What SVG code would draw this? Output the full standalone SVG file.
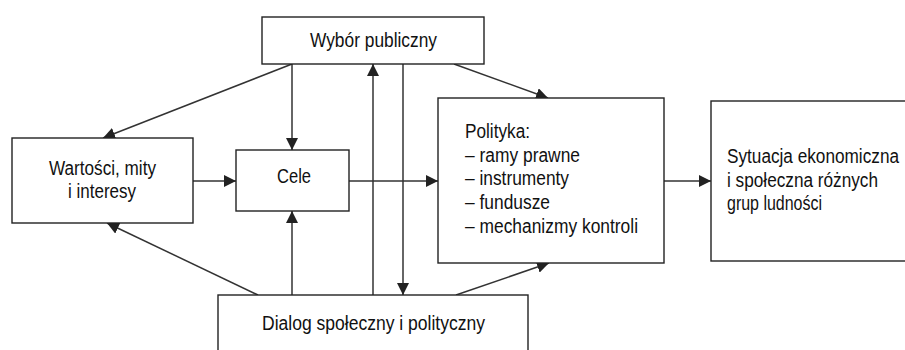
<svg xmlns="http://www.w3.org/2000/svg" width="905" height="350" viewBox="0 0 905 350">
<style>
.box{fill:#fff;stroke:#222;stroke-width:1.4}
.t{font-family:"Liberation Sans",Arial,sans-serif;font-size:19.5px;fill:#111}
.c{stroke:#333;stroke-width:1.5;fill:none;marker-end:url(#ah)}
</style>
<defs>
<marker id="ah" markerUnits="userSpaceOnUse" markerWidth="13" markerHeight="12" refX="12" refY="6" orient="auto">
<path d="M0,0 L12,6 L0,12 z" fill="#222"/>
</marker>
</defs>
<rect width="905" height="350" fill="#fff"/>
<g id="connectors">
<line class="c" x1="292" y1="64" x2="103" y2="138"/>
<line class="c" x1="292" y1="64" x2="292" y2="150"/>
<line class="c" x1="454" y1="64" x2="548" y2="98"/>
<line class="c" x1="373" y1="295" x2="373" y2="64"/>
<line class="c" x1="403" y1="64" x2="403" y2="295"/>
<line class="c" x1="193" y1="181" x2="236" y2="181"/>
<line class="c" x1="349" y1="181" x2="438" y2="181"/>
<line class="c" x1="664" y1="181" x2="711" y2="181"/>
<line class="c" x1="258" y1="295" x2="107" y2="223"/>
<line class="c" x1="292" y1="295" x2="292" y2="211"/>
<line class="c" x1="456" y1="295" x2="549" y2="263"/>
</g>
<g id="wybor">
<rect class="box" x="262" y="17" width="222" height="47"/>
<text class="t" x="310" y="47" textLength="127" lengthAdjust="spacingAndGlyphs">Wybór publiczny</text>
</g>
<g id="wartosci">
<rect class="box" x="12" y="138" width="181" height="85"/>
<text class="t" x="49" y="175" textLength="107" lengthAdjust="spacingAndGlyphs">Wartości, mity</text>
<text class="t" x="68" y="198" textLength="68" lengthAdjust="spacingAndGlyphs">i interesy</text>
</g>
<g id="cele">
<rect class="box" x="236" y="150" width="113" height="61"/>
<text class="t" x="277" y="183" textLength="34" lengthAdjust="spacingAndGlyphs">Cele</text>
</g>
<g id="polityka">
<rect class="box" x="438" y="98" width="226" height="165"/>
<text class="t" x="465" y="138" textLength="65" lengthAdjust="spacingAndGlyphs">Polityka:</text>
<text class="t" x="465" y="162" textLength="115" lengthAdjust="spacingAndGlyphs">– ramy prawne</text>
<text class="t" x="465" y="185" textLength="104" lengthAdjust="spacingAndGlyphs">– instrumenty</text>
<text class="t" x="465" y="209" textLength="85" lengthAdjust="spacingAndGlyphs">– fundusze</text>
<text class="t" x="465" y="233" textLength="173" lengthAdjust="spacingAndGlyphs">– mechanizmy kontroli</text>
</g>
<g id="sytuacja">
<rect class="box" x="711" y="101" width="200" height="160"/>
<text class="t" x="727" y="163" textLength="172" lengthAdjust="spacingAndGlyphs">Sytuacja ekonomiczna</text>
<text class="t" x="727" y="187" textLength="151" lengthAdjust="spacingAndGlyphs">i społeczna różnych</text>
<text class="t" x="727" y="210" textLength="95" lengthAdjust="spacingAndGlyphs">grup ludności</text>
</g>
<g id="dialog">
<rect class="box" x="218" y="295" width="310" height="65"/>
<text class="t" x="262" y="330" textLength="223" lengthAdjust="spacingAndGlyphs">Dialog społeczny i polityczny</text>
</g>
</svg>
